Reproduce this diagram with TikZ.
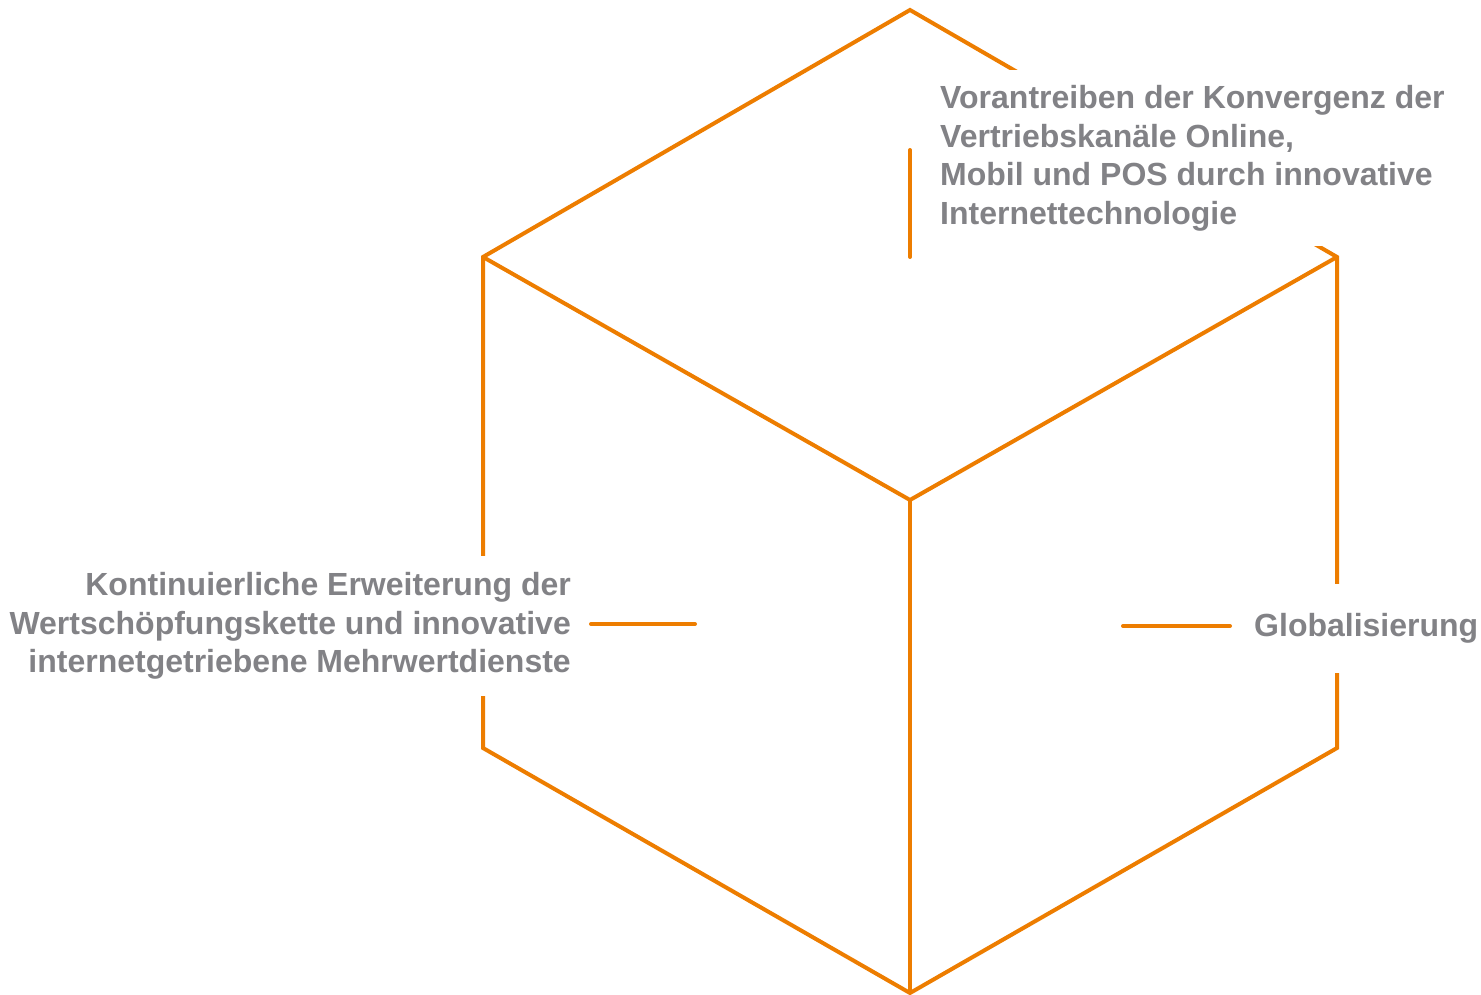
\documentclass[tikz,border=0pt]{standalone}
\usepackage{fontspec}
\setmainfont{Liberation Sans}
\usetikzlibrary{positioning}
\definecolor{cubeorange}{RGB}{237,125,0}
\definecolor{labelgray}{RGB}{130,130,134}

\begin{document}
\begin{tikzpicture}[x=1pt, y=-1pt,
    edge/.style={draw=cubeorange, line width=4pt},
    leader/.style={draw=cubeorange, line width=4pt, line cap=round},
    textbox/.style={fill=white, text=labelgray, font=\fontsize{32}{38.5}\selectfont\bfseries, inner xsep=10pt, inner ysep=0pt}]
    \useasboundingbox (0,0) rectangle (1481,995);

    % cube corners
    \coordinate (top) at (910,10);
    \coordinate (upleft) at (483,257);
    \coordinate (upright) at (1337,257);
    \coordinate (centre) at (910,500);
    \coordinate (lowleft) at (483,748);
    \coordinate (lowright) at (1337,748);
    \coordinate (bottom) at (910,993);

    \draw [edge] (upleft) -- (top) -- (upright) -- (lowright) -- (bottom) -- (lowleft) -- cycle;
    \draw [edge] (upleft) -- (centre) -- (upright);
    \draw [edge] (centre) -- (bottom);

    % labels
    \node [textbox, align=left, anchor=north west, minimum height=176pt] (channels) at (930,70) {Vorantreiben der Konvergenz der\\Vertriebskanäle Online,\\Mobil und POS durch innovative\\Internettechnologie};
    \node [textbox, align=right, anchor=east, minimum height=140pt] (valuechain) at (581,626) {Kontinuierliche Erweiterung der\\Wertschöpfungskette und innovative\\internetgetriebene Mehrwertdienste};
    \node [textbox, anchor=west, minimum height=89pt] (global) at (1244,628) {Globalisierung};

    \draw [leader] (910,150) -- (top |- upleft);
    \draw [leader] ([xshift=10pt, yshift=2pt]valuechain.east) -- ++(104,0);
    \draw [leader] ([xshift=-14pt, yshift=2pt]global.west) -- ++(-107,0);
\end{tikzpicture}
\end{document}
